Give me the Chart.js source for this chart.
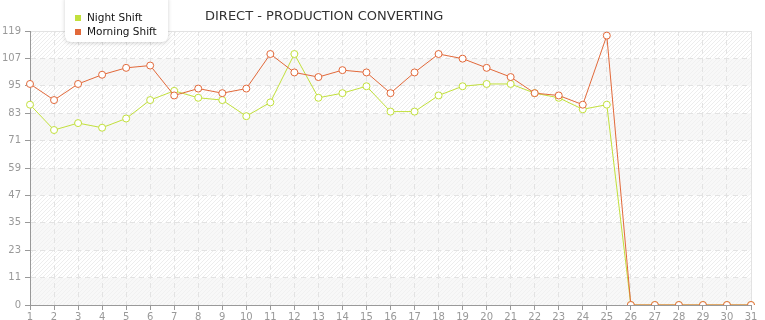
<!DOCTYPE html>
<html>
<head>
<meta charset="utf-8">
<script src="https://cdn.jsdelivr.net/npm/chart.js@4/dist/chart.umd.min.js"></script>
<style>
    html, body { margin: 0; padding: 0; background: #fff; }
    #wrap { width: 765px; height: 320px; }
</style>
</head>
<body>
<div id="wrap"><canvas id="chart" width="765" height="320"></canvas></div>
<script>
// values
const days = ['1','2','3','4','5','6','7','8','9','10','11','12','13','14','15','16',
    '17','18','19','20','21','22','23','24','25','26','27','28','29','30','31'];
const nightShift = [87, 76, 79, 77, 81, 89, 93, 90, 89, 82, 88, 109, 90, 92, 95, 84,
    84, 91, 95, 96, 96, 92, 90, 85, 87, 0, 0, 0, 0, 0, 0];
const morningShift = [96, 89, 96, 100, 103, 104, 91, 94, 92, 94, 109, 101, 99, 102, 101, 92,
    101, 109, 107, 103, 99, 92, 91, 87, 117, 0, 0, 0, 0, 0, 0];
const yTickValues = [0, 11.9, 23.8, 35.7, 47.6, 59.5, 71.4, 83.3, 95.2, 107.1, 119];
const yTickLabels = ['0', '11', '23', '35', '47', '59', '71', '83', '95', '107', '119'];

const chartTitle = 'DIRECT - PRODUCTION CONVERTING';
const nightColor = '#c2e03c';
const morningColor = '#e2693a';
const fontFamily = '"DejaVu Sans", Verdana, sans-serif';

// hatch pattern for the striped bands
function makeHatch(bg, line) {
    const c = document.createElement('canvas');
    c.width = 4;
    c.height = 4;
    const x = c.getContext('2d');
    x.fillStyle = bg;
    x.fillRect(0, 0, 4, 4);
    x.strokeStyle = line;
    x.lineWidth = 1;
    x.beginPath();
    x.moveTo(-1, 5); x.lineTo(5, -1);
    x.moveTo(-1, 1); x.lineTo(1, -1);
    x.moveTo(3, 5); x.lineTo(5, 3);
    x.stroke();
    return c;
}

const bandsPlugin = {
    id: 'bands',
    beforeDraw(chart) {
        const ctx = chart.ctx;
        const area = chart.chartArea;
        const y = chart.scales.y;
        const hatchA = ctx.createPattern(makeHatch('#ffffff', '#ededed'), 'repeat');
        const hatchB = ctx.createPattern(makeHatch('#f8f8f8', '#f1f1f1'), 'repeat');
        ctx.save();
        for (let i = 0; i < yTickValues.length - 1; i++) {
            const top = y.getPixelForValue(yTickValues[i + 1]);
            const bottom = y.getPixelForValue(yTickValues[i]);
            ctx.fillStyle = i % 2 === 0 ? hatchB : hatchA;
            ctx.fillRect(area.left, top, area.right - area.left, bottom - top);
        }
        // top and right frame
        ctx.strokeStyle = '#e2e2e2';
        ctx.lineWidth = 1;
        ctx.beginPath();
        ctx.moveTo(area.left, area.top + 0.5);
        ctx.lineTo(area.right + 0.5, area.top + 0.5);
        ctx.lineTo(area.right + 0.5, area.bottom);
        ctx.stroke();
        ctx.restore();
    }
};

const legendPlugin = {
    id: 'floatLegend',
    afterDraw(chart) {
        const ctx = chart.ctx;
        ctx.save();
        // title
        ctx.fillStyle = '#333';
        ctx.font = '13px ' + fontFamily;
        ctx.textBaseline = 'middle';
        ctx.fillText(chartTitle, 205, 17);

        // legend box
        ctx.shadowColor = 'rgba(0,0,0,0.18)';
        ctx.shadowBlur = 4;
        ctx.shadowOffsetY = 1;
        ctx.fillStyle = '#fff';
        ctx.beginPath();
        ctx.roundRect(65, -6, 103, 48, 6);
        ctx.fill();
        ctx.shadowColor = 'transparent';

        ctx.font = '10.5px ' + fontFamily;
        chart.data.datasets.forEach((ds, i) => {
            const yy = 18 + i * 14;
            ctx.fillStyle = ds.borderColor;
            ctx.fillRect(75, yy - 3, 6, 6);
            ctx.fillStyle = '#111';
            ctx.fillText(ds.label, 87, yy);
        });
        ctx.restore();
    }
};

const config = {
    type: 'line',
    data: {
        labels: days,
        datasets: [{
            label: 'Night Shift',
            data: nightShift,
            borderColor: nightColor,
            backgroundColor: '#fff',
            borderWidth: 1,
            pointRadius: 3.5,
            pointBorderWidth: 1,
            pointBackgroundColor: '#fff',
            tension: 0,
            order: 2
        }, {
            label: 'Morning Shift',
            data: morningShift,
            borderColor: morningColor,
            backgroundColor: '#fff',
            borderWidth: 1,
            pointRadius: 3.5,
            pointBorderWidth: 1,
            pointBackgroundColor: '#fff',
            tension: 0,
            order: 1
        }]
    },
    options: {
        responsive: false,
        animation: false,
        layout: {
            padding: { top: 31, right: 14, bottom: 0, left: 0 }
        },
        plugins: {
            legend: { display: false },
            title: { display: false },
            tooltip: { enabled: false }
        },
        scales: {
            x: {
                offset: false,
                afterFit(scale) { scale.height = 15; },
                grid: {
                    color: '#e3e3e3',
                    tickLength: 5,
                    tickColor: '#999',
                    tickBorderDash: [],
                    drawOnChartArea: true
                },
                border: { display: true, color: '#999', dash: [5, 4] },
                ticks: {
                    padding: 1,
                    maxRotation: 0,
                    autoSkip: false,
                    color: '#999',
                    font: { family: fontFamily, size: 10 }
                }
            },
            y: {
                min: 0,
                max: 119,
                afterFit(scale) { scale.width = 30; },
                afterBuildTicks(scale) {
                    scale.ticks = yTickValues.map(v => ({ value: v }));
                },
                grid: {
                    color: '#e3e3e3',
                    tickLength: 5,
                    tickColor: '#999',
                    tickBorderDash: []
                },
                border: { display: true, color: '#999', dash: [5, 4] },
                ticks: {
                    padding: 4,
                    color: '#999',
                    font: { family: fontFamily, size: 10 },
                    callback: (value, index) => yTickLabels[index]
                }
            }
        }
    },
    plugins: [bandsPlugin, legendPlugin]
};

window.onload = () => {
    const ctx = document.getElementById('chart').getContext('2d');
    window.myChart = new Chart(ctx, config);
};
</script>
</body>
</html>
